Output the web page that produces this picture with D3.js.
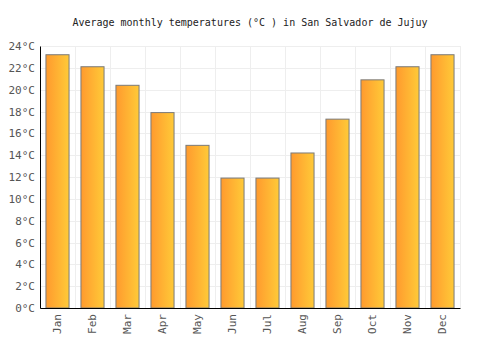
<!DOCTYPE html>
<html>
<head>
<meta charset="utf-8">
<script src="https://cdn.jsdelivr.net/npm/d3@7"></script>
<style>
  body { margin: 0; background: #fff; }
  text { font-family: "DejaVu Sans Mono", monospace; }
</style>
</head>
<body>
<div id="chart"></div>
<script>
// data
var months = ["Jan", "Feb", "Mar", "Apr", "May", "Jun", "Jul", "Aug", "Sep", "Oct", "Nov", "Dec"];
var temps = [23.2, 22.1, 20.4, 17.9, 14.9, 11.9, 11.9, 14.2, 17.3, 20.9, 22.1, 23.2];
var yTicks = [0, 2, 4, 6, 8, 10, 12, 14, 16, 18, 20, 22, 24];

var width = 500, height = 350;
var margin = { left: 40, top: 46, right: 40, bottom: 42 };
var w = width - margin.left - margin.right;
var h = height - margin.top - margin.bottom;

var svg = d3.select("#chart").append("svg")
  .attr("width", width)
  .attr("height", height);

var defs = svg.append("defs");
var grad = defs.append("linearGradient").attr("id", "barGrad")
  .attr("x1", "0%").attr("x2", "100%").attr("y1", "0%").attr("y2", "0%");
grad.append("stop").attr("offset", "0%").attr("stop-color", "#ff9a2e");
grad.append("stop").attr("offset", "100%").attr("stop-color", "#ffca38");

// title
svg.append("text")
  .attr("x", width / 2)
  .attr("y", 26)
  .attr("text-anchor", "middle")
  .style("font-size", "10px")
  .attr("fill", "#222")
  .text("Average monthly temperatures (°C ) in San Salvador de Jujuy");

var g = svg.append("g")
  .attr("transform", "translate(" + margin.left + "," + margin.top + ")");

var x = d3.scaleBand().domain(months).range([0, w]).paddingInner(0.34).paddingOuter(0.17);
var y = d3.scaleLinear().domain([0, 24]).range([h, 0]);

// grid
g.selectAll(".hgrid").data(yTicks).enter().append("line")
  .attr("x1", 0).attr("x2", w)
  .attr("y1", function (d) { return Math.round(y(d)) + 0.5; })
  .attr("y2", function (d) { return Math.round(y(d)) + 0.5; })
  .attr("stroke", "#eeeeee");

var bounds = d3.range(months.length + 1).map(function (i) { return i * x.step(); });
g.selectAll(".vgrid").data(bounds).enter().append("line")
  .attr("y1", 0).attr("y2", h)
  .attr("x1", function (d) { return Math.round(d) + 0.5; })
  .attr("x2", function (d) { return Math.round(d) + 0.5; })
  .attr("stroke", "#eeeeee");

// bars
g.selectAll(".bar").data(temps).enter().append("rect")
  .attr("x", function (d, i) { return x(months[i]); })
  .attr("width", x.bandwidth())
  .attr("y", function (d) { return y(d); })
  .attr("height", function (d) { return h - y(d); })
  .attr("fill", "url(#barGrad)")
  .attr("stroke", "#7a7a7a")
  .attr("stroke-width", 1);

// y axis
var yAxis = g.append("g")
  .call(d3.axisLeft(y).tickValues(yTicks).tickSize(0).tickPadding(5)
    .tickFormat(function (d) { return d + "°C"; }));
yAxis.select(".domain").attr("stroke", "#000");
yAxis.selectAll("text").style("font-size", "11px").attr("fill", "#555");

// x axis
var xAxis = g.append("g")
  .attr("transform", "translate(0," + h + ")")
  .call(d3.axisBottom(x).tickSize(0).tickPadding(6));
xAxis.select(".domain").attr("stroke", "#000");
xAxis.selectAll("text")
  .style("font-size", "11px")
  .attr("fill", "#555")
  .attr("text-anchor", "end")
  .attr("transform", "rotate(-90)")
  .attr("x", -6)
  .attr("y", 0)
  .attr("dy", "0.35em");
</script>
</body>
</html>
